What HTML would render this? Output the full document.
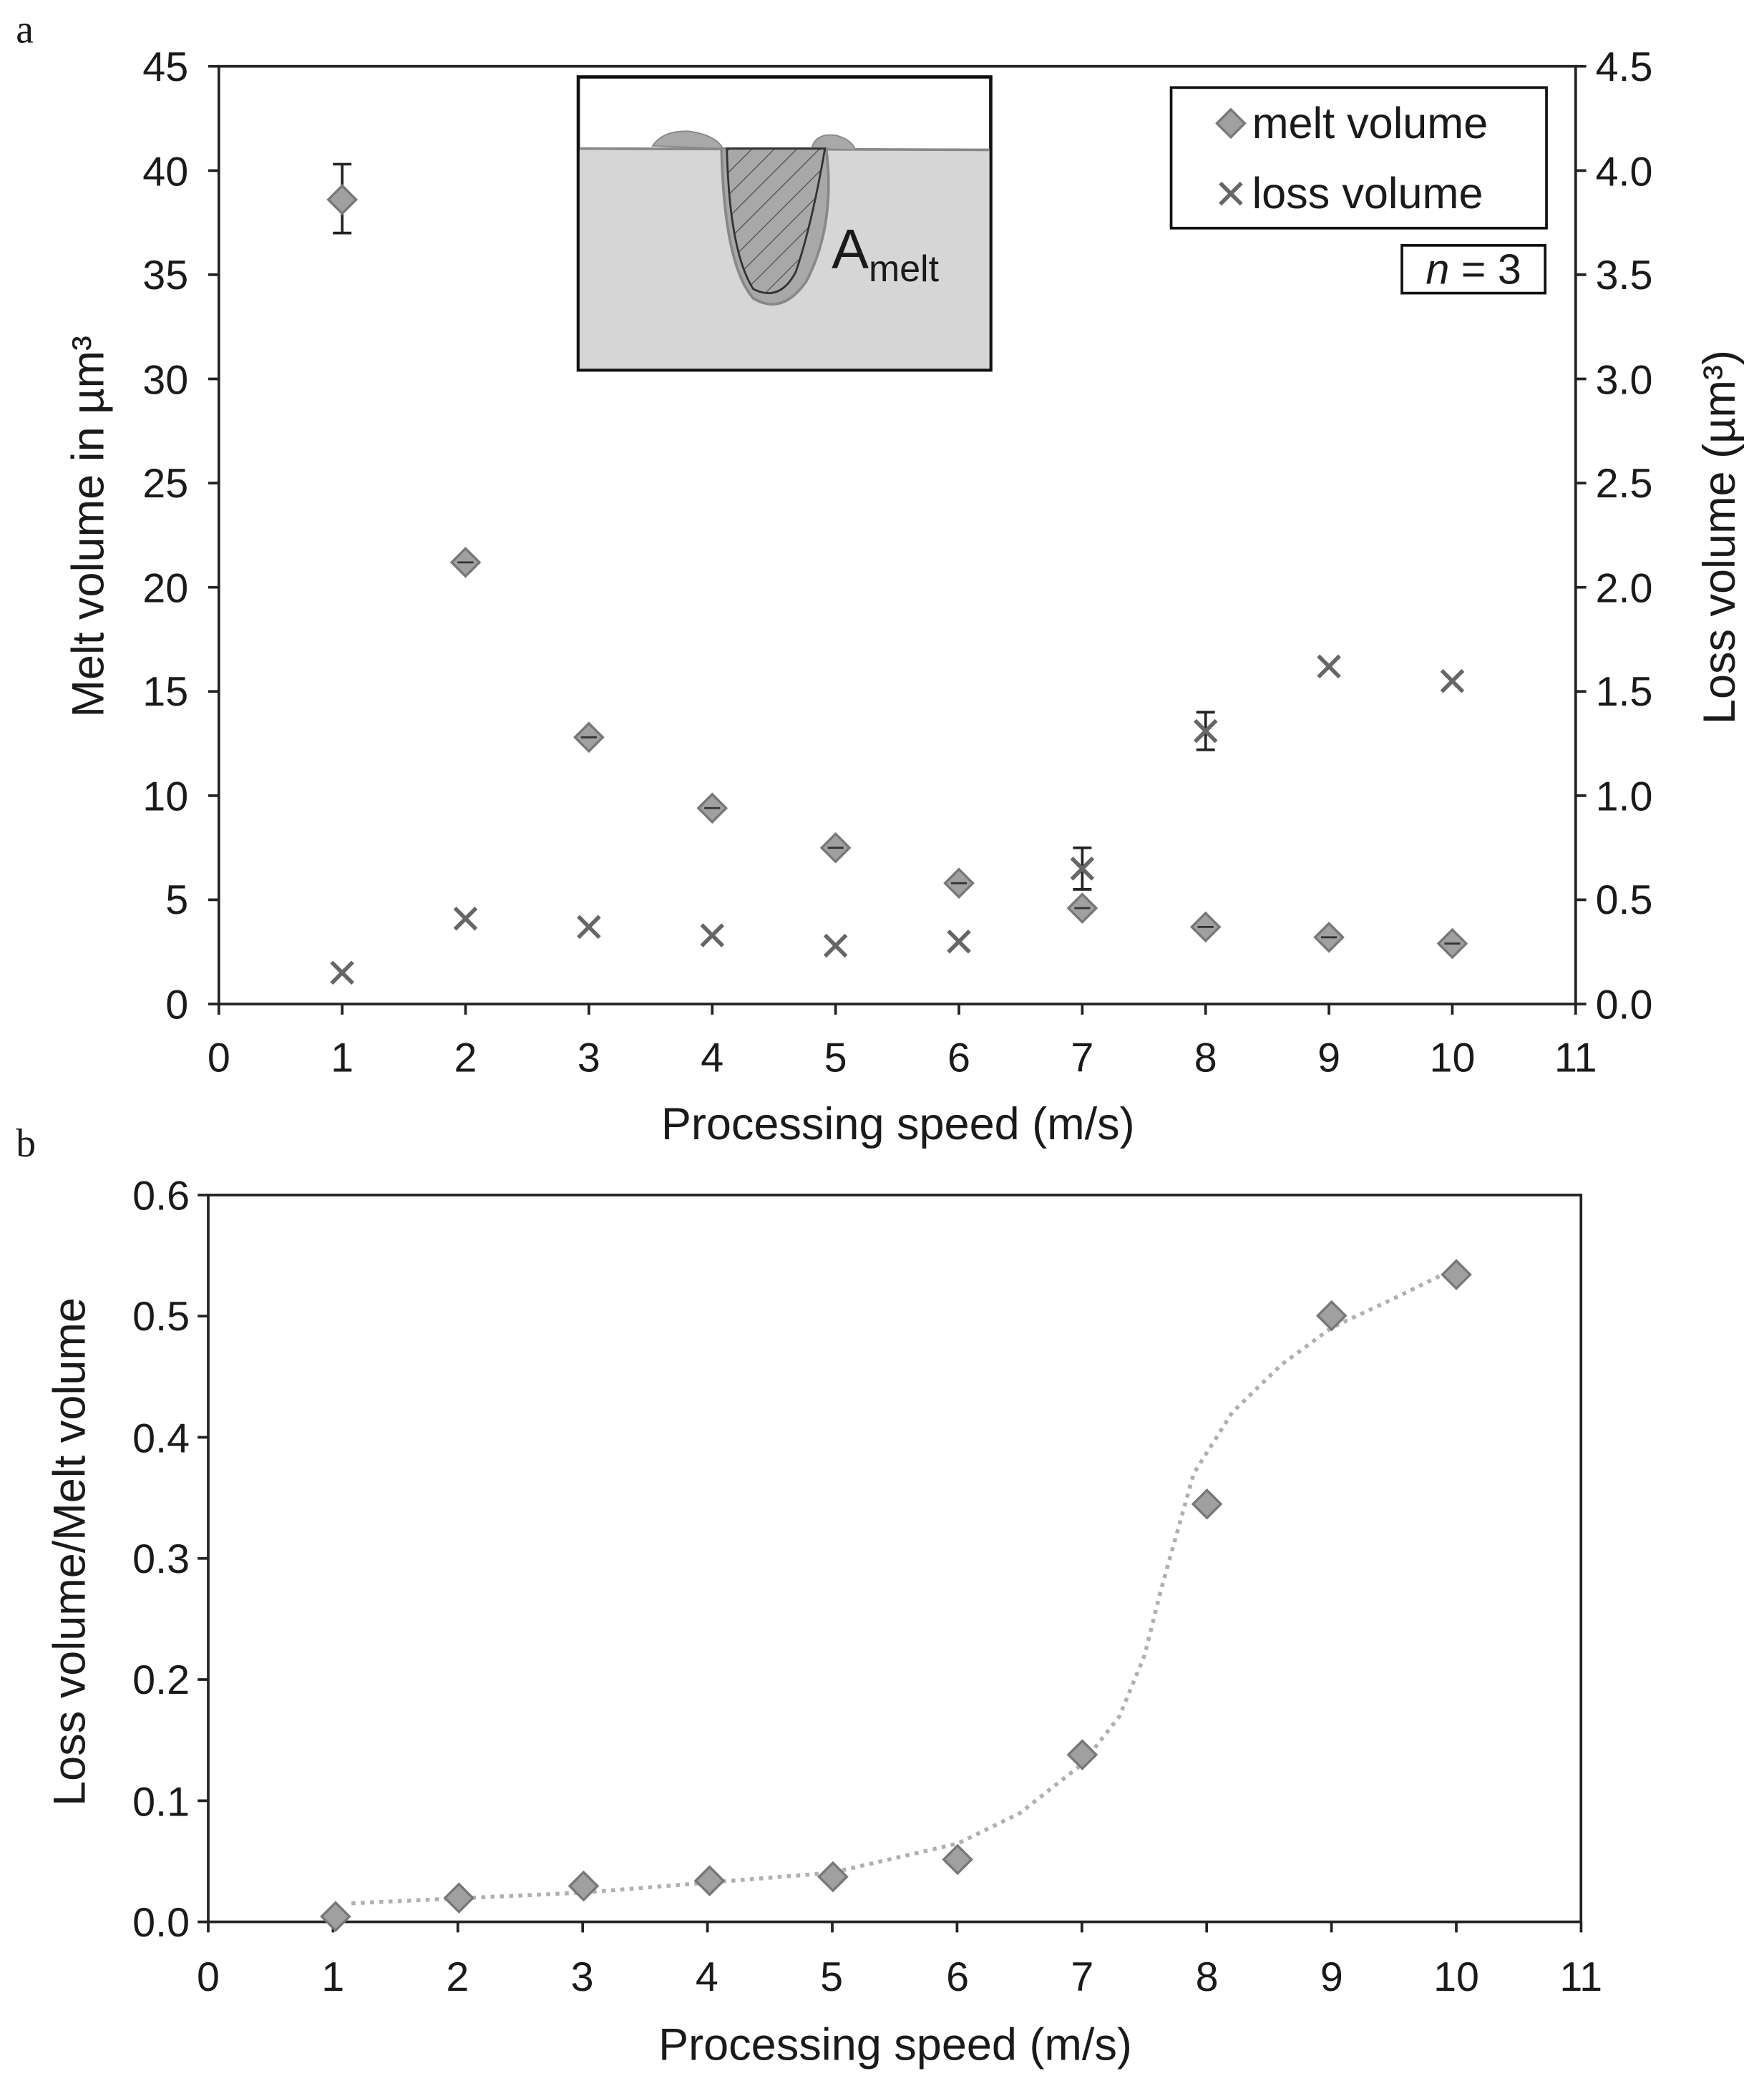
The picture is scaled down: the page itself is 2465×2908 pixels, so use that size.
<!DOCTYPE html>
<html><head><meta charset="utf-8"><style>html,body{margin:0;padding:0;background:#fff}svg{display:block}</style></head>
<body>
<svg width="2465" height="2908" viewBox="0 0 1330 1569" preserveAspectRatio="none" xmlns="http://www.w3.org/2000/svg" font-family="Liberation Sans, Arial, sans-serif" fill="#1a1a1a">
<defs>
<g id="d"><path d="M0,-10.5 L10.5,0 L0,10.5 L-10.5,0Z" fill="#a0a0a0" stroke="#777" stroke-width="1.8"/></g>
<g id="x"><path d="M-8,-8 L8,8 M-8,8 L8,-8" stroke="#666" stroke-width="3" fill="none"/></g>
<pattern id="h" width="12" height="12" patternUnits="userSpaceOnUse" patternTransform="rotate(45)"><line x1="0" y1="0" x2="0" y2="12" stroke="#444" stroke-width="1.2"/></pattern>
</defs>
<text x="12" y="32" font-family="Liberation Serif, serif" font-size="30">a</text>
<text x="12" y="872" font-family="Liberation Serif, serif" font-size="30">b</text>

<!-- TOP CHART -->
<rect x="165" y="50" width="1023" height="707" fill="none" stroke="#222" stroke-width="2"/>
<g stroke="#222" stroke-width="2">
<path d="M157,757H165M157,678.4H165M157,599.9H165M157,521.3H165M157,442.8H165M157,364.2H165M157,285.7H165M157,207.1H165M157,128.6H165M157,50H165"/>
<path d="M1188,757H1196M1188,678.4H1196M1188,599.9H1196M1188,521.3H1196M1188,442.8H1196M1188,364.2H1196M1188,285.7H1196M1188,207.1H1196M1188,128.6H1196M1188,50H1196"/>
<path d="M165,757V765M258,757V765M351,757V765M444,757V765M537,757V765M630,757V765M723,757V765M816,757V765M909,757V765M1002,757V765M1095,757V765M1188,757V765"/>
</g>
<g font-size="31" text-anchor="end">
<text x="142" y="768">0</text><text x="142" y="689">5</text><text x="142" y="611">10</text><text x="142" y="532">15</text><text x="142" y="454">20</text><text x="142" y="375">25</text><text x="142" y="297">30</text><text x="142" y="218">35</text><text x="142" y="140">40</text><text x="142" y="61">45</text>
</g>
<g font-size="31" text-anchor="start">
<text x="1203" y="768">0.0</text><text x="1203" y="689">0.5</text><text x="1203" y="611">1.0</text><text x="1203" y="532">1.5</text><text x="1203" y="454">2.0</text><text x="1203" y="375">2.5</text><text x="1203" y="297">3.0</text><text x="1203" y="218">3.5</text><text x="1203" y="140">4.0</text><text x="1203" y="61">4.5</text>
</g>
<g font-size="31" text-anchor="middle">
<text x="165" y="808">0</text><text x="258" y="808">1</text><text x="351" y="808">2</text><text x="444" y="808">3</text><text x="537" y="808">4</text><text x="630" y="808">5</text><text x="723" y="808">6</text><text x="816" y="808">7</text><text x="909" y="808">8</text><text x="1002" y="808">9</text><text x="1095" y="808">10</text><text x="1188" y="808">11</text>
</g>
<text x="677" y="859" font-size="34" text-anchor="middle">Processing speed (m/s)</text>
<text transform="translate(78,397) rotate(-90)" font-size="34" text-anchor="middle">Melt volume in µm³</text>
<text transform="translate(1308,405) rotate(-90)" font-size="34" text-anchor="middle">Loss volume (µm³)</text>

<!-- inset -->
<rect x="436" y="58" width="311" height="221" fill="#fff" stroke="#111" stroke-width="2.5"/>
<rect x="437" y="112" width="309" height="166" fill="#d6d6d6"/>
<path d="M437,112 L746,113" stroke="#888" stroke-width="2"/>
<path d="M492,110 Q500,98 520,99 Q540,102 545,112Z" fill="#a8a8a8" stroke="#888"/>
<path d="M612,112 Q615,100 630,102 Q642,105 645,113Z" fill="#a8a8a8" stroke="#888"/>
<path d="M544,112 Q546,200 568,225 Q590,238 608,212 Q630,170 623,112Z" fill="#a8a8a8" stroke="#888" stroke-width="2"/>
<path d="M548,112 Q550,190 568,218 Q588,228 600,205 Q612,170 622,112Z" fill="url(#h)" stroke="#333" stroke-width="1.5"/>
<text x="627" y="202" font-size="42">A<tspan font-size="28" dy="10">melt</tspan></text>

<!-- legend -->
<rect x="883" y="66" width="283" height="106" fill="#fff" stroke="#111" stroke-width="2"/>
<use href="#d" x="928" y="93"/><text x="944" y="104" font-size="33">melt volume</text>
<use href="#x" x="928" y="146"/><text x="944" y="157" font-size="33">loss volume</text>
<rect x="1057" y="185" width="108" height="36" fill="#fff" stroke="#111" stroke-width="2"/>
<text x="1111" y="214" font-size="32" text-anchor="middle"><tspan font-style="italic">n</tspan> = 3</text>

<!-- error bars -->
<g stroke="#222" stroke-width="2">
<path d="M258,123.8V175.7M251,123.8H265M251,175.7H265"/>
<path d="M816,639.2V670.6M809,639.2H823M809,670.6H823"/>
<path d="M909,537V565.3M902,537H916M902,565.3H916"/>
</g>
<!-- melt -->
<use href="#d" x="258" y="150.5"/><use href="#d" x="351" y="424"/><use href="#d" x="444" y="555.9"/><use href="#d" x="537" y="609.3"/><use href="#d" x="630" y="639.2"/><use href="#d" x="723" y="665.9"/><use href="#d" x="816" y="684.7"/><use href="#d" x="909" y="698.9"/><use href="#d" x="1002" y="706.7"/><use href="#d" x="1095" y="711.4"/>
<g stroke="#333" stroke-width="1.5"><path d="M345,424H357M438,555.9H450M531,609.3H543M624,639.2H636M717,665.9H729M810,684.7H822M903,698.9H915M996,706.7H1008M1089,711.4H1101"/></g>
<!-- loss -->
<use href="#x" x="258" y="733.4"/><use href="#x" x="351" y="692.6"/><use href="#x" x="444" y="698.9"/><use href="#x" x="537" y="705.2"/><use href="#x" x="630" y="713"/><use href="#x" x="723" y="709.9"/><use href="#x" x="816" y="654.9"/><use href="#x" x="909" y="551.2"/><use href="#x" x="1002" y="502.5"/><use href="#x" x="1095" y="513.5"/>

<!-- BOTTOM CHART -->
<rect x="157" y="901" width="1035" height="548" fill="none" stroke="#222" stroke-width="2"/>
<g stroke="#222" stroke-width="2">
<path d="M149,1449H157M149,1357.7H157M149,1266.3H157M149,1175H157M149,1083.7H157M149,992.3H157M149,901H157"/>
<path d="M157,1449V1457M251.1,1449V1457M345.2,1449V1457M439.3,1449V1457M533.4,1449V1457M627.5,1449V1457M721.6,1449V1457M815.7,1449V1457M909.8,1449V1457M1003.9,1449V1457M1098,1449V1457M1192.1,1449V1457"/>
</g>
<g font-size="31" text-anchor="end">
<text x="143" y="1460">0.0</text><text x="143" y="1369">0.1</text><text x="143" y="1277">0.2</text><text x="143" y="1186">0.3</text><text x="143" y="1095">0.4</text><text x="143" y="1003">0.5</text><text x="143" y="912">0.6</text>
</g>
<g font-size="31" text-anchor="middle">
<text x="157" y="1501">0</text><text x="251" y="1501">1</text><text x="345" y="1501">2</text><text x="439" y="1501">3</text><text x="533" y="1501">4</text><text x="627" y="1501">5</text><text x="722" y="1501">6</text><text x="816" y="1501">7</text><text x="910" y="1501">8</text><text x="1004" y="1501">9</text><text x="1098" y="1501">10</text><text x="1192" y="1501">11</text>
</g>
<text x="675" y="1553" font-size="34" text-anchor="middle">Processing speed (m/s)</text>
<text transform="translate(64,1170) rotate(-90)" font-size="34" text-anchor="middle">Loss volume/Melt volume</text>
<polyline fill="none" stroke="#b0b0b0" stroke-width="3" stroke-dasharray="3,4" points="265,1435 439,1427 627,1412 722,1390 769,1367 816,1330 844,1294 863,1248 875,1200 882,1175 900,1111 929,1065 966,1029 1004,1001 1051,979 1098,956"/>
<use href="#d" x="253" y="1445"/><use href="#d" x="346" y="1431"/><use href="#d" x="440" y="1422"/><use href="#d" x="535" y="1418"/><use href="#d" x="628" y="1415"/><use href="#d" x="722" y="1402"/><use href="#d" x="816" y="1323"/><use href="#d" x="910" y="1134"/><use href="#d" x="1004" y="992"/><use href="#d" x="1098" y="961"/>
</svg>
</body></html>
